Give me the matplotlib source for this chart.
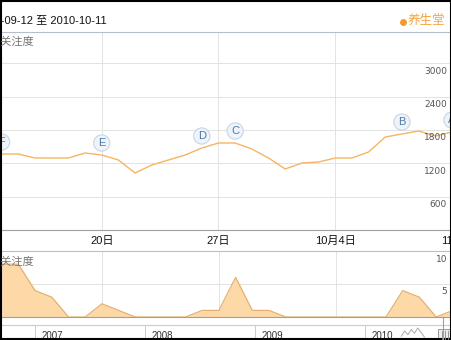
import matplotlib
matplotlib.use("Agg")
import matplotlib.pyplot as plt
from matplotlib.patches import Rectangle

plt.rcParams['font.family'] = ['Liberation Sans', 'Noto Sans CJK SC']

# 9月14日 .. 10月11日, one point per day
days = list(range(28))
search_idx = [1368, 1368, 1296, 1296, 1296, 1386, 1350, 1260, 1026, 1170,
              1260, 1350, 1476, 1566, 1566, 1458, 1296, 1098, 1206, 1224,
              1296, 1296, 1404, 1674, 1728, 1782, 1692, 1764]
media_idx = [8, 8, 4, 3, 0, 0, 2, 1, 0, 0, 0, 0, 1, 1, 6, 1, 1, 0, 0, 0,
             0, 0, 0, 0, 4, 3, 0, 1]

date_days = [6, 13, 20, 27]
date_labels = ['20日', '27日', '10月4日', '11日']
y_ticks = [600, 1200, 1800, 2400, 3000]
media_ticks = [5, 10]

event_letters = ['F', 'E', 'D', 'C', 'B', 'A']
event_days = [0, 6, 12, 14, 24, 27]

years = [2007, 2008, 2009, 2010]
thumb_x = [2010.33, 2010.36, 2010.39, 2010.42, 2010.45, 2010.48, 2010.51, 2010.54]
thumb_y = [0.25, 0.6, 0.35, 0.7, 0.45, 0.8, 0.5, 0.2]

W, H = 452, 340
fig = plt.figure(figsize=(W / 100, H / 100), dpi=100)


def frac(x0, y0, x1, y1):
    return [x0 / W, 1 - y1 / H, (x1 - x0) / W, (y1 - y0) / H]


grid_c = '#e3e3e3'
sep_c = '#b7bfcc'

# main index chart
ax = fig.add_axes(frac(0, 32, W, 230))
ax.plot(days, search_idx, color='#f6b562', lw=1.0, zorder=3)
ax.set_xlim(-0.1, 26.95)
ax.set_ylim(0, 3564)
ax.set_yticks(y_ticks)
ax.set_yticklabels([])
ax.set_xticks(date_days, date_labels)
ax.tick_params(length=0, pad=4, labelsize=8, labelcolor='#111')
ax.grid(True, color=grid_c, lw=0.72)
for s in ['left', 'right']:
    ax.spines[s].set_visible(False)
ax.spines['top'].set_color(sep_c)
ax.spines['bottom'].set_color('#a0a0a0')
ax.spines['top'].set_linewidth(0.8)
ax.spines['bottom'].set_linewidth(0.8)
for v in y_ticks:
    ax.annotate(str(v), xy=(1, v), xycoords=('axes fraction', 'data'),
                xytext=(-5, -8), textcoords='offset pixels', ha='right',
                va='center', fontsize=6.5, color='#555555', family='DejaVu Sans')
for letter, d in zip(event_letters, event_days):
    ax.annotate(letter, xy=(d, search_idx[d]), xytext=(0, 12),
                textcoords='offset pixels', ha='center', va='center',
                fontsize=8, color='#4a78a8', annotation_clip=False, zorder=5,
                bbox=dict(boxstyle='circle,pad=0.28', fc='#eef4fa', ec='#c6d6e8', lw=0.8))

# media index chart
ax2 = fig.add_axes(frac(0, 251, W, 317))
ax2.fill_between(days, media_idx, color='#fdd9a8', lw=0, zorder=2)
ax2.plot(days, media_idx, color='#e4b173', lw=0.9, zorder=3)
ax2.set_xlim(-0.1, 26.95)
ax2.set_ylim(0, 10)
ax2.set_yticks([5])
ax2.set_xticks(date_days[:3])
ax2.set_yticklabels([])
ax2.set_xticklabels([])
ax2.tick_params(length=0)
ax2.grid(True, color=grid_c, lw=0.72)
for s in ['left', 'right']:
    ax2.spines[s].set_visible(False)
ax2.spines['top'].set_color(sep_c)
ax2.spines['bottom'].set_color('#a0a0a0')
ax2.spines['top'].set_linewidth(0.8)
ax2.spines['bottom'].set_linewidth(0.8)
for v in media_ticks:
    ax2.annotate(str(v), xy=(1, v), xycoords=('axes fraction', 'data'),
                 xytext=(-5, -8), textcoords='offset pixels', ha='right',
                 va='center', fontsize=6.5, color='#555555', family='DejaVu Sans',
                 annotation_clip=False)

# year navigator strip
ax3 = fig.add_axes(frac(0, 325, W, 340))
ax3.set_xlim(2007 - 35 / 110, 2007 + 417 / 110)
ax3.set_ylim(0, 1)
ax3.set_xticks(years)
ax3.set_xticklabels([])
ax3.set_yticks([])
ax3.tick_params(length=0)
ax3.grid(True, axis='x', color='#cccccc', lw=0.72)
for s in ['left', 'right', 'bottom']:
    ax3.spines[s].set_visible(False)
ax3.spines['top'].set_color('#cccccc')
for yr in years:
    ax3.annotate(str(yr), xy=(yr, 1), xycoords=('data', 'axes fraction'),
                 xytext=(7, -6), textcoords='offset pixels', ha='left', va='top',
                 fontsize=7, color='#333333')
ax3.plot(thumb_x, thumb_y, color='#aaaaaa', lw=0.7)

# header, labels and frame in pixel space
ov = fig.add_axes([0, 0, 1, 1], zorder=10)
ov.set_xlim(0, W)
ov.set_ylim(H, 0)
ov.axis('off')
ov.patch.set_alpha(0)
ov.text(-24, 20, '2010-09-12 至 2010-10-11', fontsize=8, color='#111111',
        ha='left', va='center')
ov.plot(403, 22, 'o', ms=5, color='#f39a2b', mec='none')
ov.text(408, 21, '养生堂', fontsize=9, color='#f2a441', ha='left', va='center')
ov.text(34, 41, '用户关注度', fontsize=8, color='#777777', ha='right', va='center')
ov.text(34, 262, '媒体关注度', fontsize=8, color='#777777', ha='right', va='center')
ov.plot([443, 443], [317, 340], color='#9aa0a8', lw=0.8)
ov.add_patch(Rectangle((438, 329), 13, 11, fill=True, fc='#eeeeee', ec='#999999', lw=0.7))
for gx in [442, 445, 448]:
    ov.plot([gx, gx], [331, 340], color='#888888', lw=0.6)
ov.add_patch(Rectangle((1, 1), W - 2, H - 2, fill=False, ec='black', lw=1.5,
                       clip_on=False))

fig.savefig('out.png', dpi=100)
